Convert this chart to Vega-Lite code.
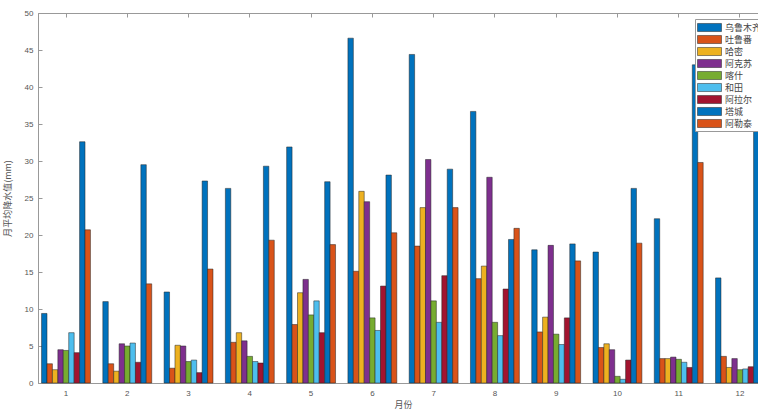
{
  "$schema": "https://vega.github.io/schema/vega-lite/v6.json",
  "autosize": {"type": "none"},
  "padding": {"left": 38, "top": 13, "right": 0, "bottom": 29},
  "width": 730,
  "height": 370,
  "background": "white",
  "config": {
    "view": {"stroke": "#999", "strokeWidth": 1},
    "font": "Liberation Sans",
    "axis": {"labelColor": "#555", "titleColor": "#555", "domainColor": "#999", "tickColor": "#999", "labelFontSize": 8, "titleFontWeight": "normal", "grid": false}
  },
  "data": {"values": [
    {"m":1,"s":"乌鲁木齐","v":9.4},{"m":1,"s":"吐鲁番","v":2.6},{"m":1,"s":"哈密","v":1.8},{"m":1,"s":"阿克苏","v":4.5},{"m":1,"s":"喀什","v":4.4},{"m":1,"s":"和田","v":6.8},{"m":1,"s":"阿拉尔","v":4.1},{"m":1,"s":"塔城","v":32.6},{"m":1,"s":"阿勒泰","v":20.7},
    {"m":2,"s":"乌鲁木齐","v":11.0},{"m":2,"s":"吐鲁番","v":2.6},{"m":2,"s":"哈密","v":1.6},{"m":2,"s":"阿克苏","v":5.3},{"m":2,"s":"喀什","v":5.0},{"m":2,"s":"和田","v":5.4},{"m":2,"s":"阿拉尔","v":2.8},{"m":2,"s":"塔城","v":29.5},{"m":2,"s":"阿勒泰","v":13.4},
    {"m":3,"s":"乌鲁木齐","v":12.3},{"m":3,"s":"吐鲁番","v":2.0},{"m":3,"s":"哈密","v":5.1},{"m":3,"s":"阿克苏","v":5.0},{"m":3,"s":"喀什","v":2.9},{"m":3,"s":"和田","v":3.1},{"m":3,"s":"阿拉尔","v":1.4},{"m":3,"s":"塔城","v":27.3},{"m":3,"s":"阿勒泰","v":15.4},
    {"m":4,"s":"乌鲁木齐","v":26.3},{"m":4,"s":"吐鲁番","v":5.5},{"m":4,"s":"哈密","v":6.8},{"m":4,"s":"阿克苏","v":5.7},{"m":4,"s":"喀什","v":3.6},{"m":4,"s":"和田","v":2.9},{"m":4,"s":"阿拉尔","v":2.7},{"m":4,"s":"塔城","v":29.3},{"m":4,"s":"阿勒泰","v":19.3},
    {"m":5,"s":"乌鲁木齐","v":31.9},{"m":5,"s":"吐鲁番","v":7.9},{"m":5,"s":"哈密","v":12.2},{"m":5,"s":"阿克苏","v":14.0},{"m":5,"s":"喀什","v":9.2},{"m":5,"s":"和田","v":11.1},{"m":5,"s":"阿拉尔","v":6.8},{"m":5,"s":"塔城","v":27.2},{"m":5,"s":"阿勒泰","v":18.7},
    {"m":6,"s":"乌鲁木齐","v":46.6},{"m":6,"s":"吐鲁番","v":15.1},{"m":6,"s":"哈密","v":25.9},{"m":6,"s":"阿克苏","v":24.5},{"m":6,"s":"喀什","v":8.8},{"m":6,"s":"和田","v":7.1},{"m":6,"s":"阿拉尔","v":13.1},{"m":6,"s":"塔城","v":28.1},{"m":6,"s":"阿勒泰","v":20.3},
    {"m":7,"s":"乌鲁木齐","v":44.4},{"m":7,"s":"吐鲁番","v":18.5},{"m":7,"s":"哈密","v":23.7},{"m":7,"s":"阿克苏","v":30.2},{"m":7,"s":"喀什","v":11.1},{"m":7,"s":"和田","v":8.2},{"m":7,"s":"阿拉尔","v":14.5},{"m":7,"s":"塔城","v":28.9},{"m":7,"s":"阿勒泰","v":23.7},
    {"m":8,"s":"乌鲁木齐","v":36.7},{"m":8,"s":"吐鲁番","v":14.1},{"m":8,"s":"哈密","v":15.8},{"m":8,"s":"阿克苏","v":27.8},{"m":8,"s":"喀什","v":8.2},{"m":8,"s":"和田","v":6.4},{"m":8,"s":"阿拉尔","v":12.7},{"m":8,"s":"塔城","v":19.4},{"m":8,"s":"阿勒泰","v":20.9},
    {"m":9,"s":"乌鲁木齐","v":18.0},{"m":9,"s":"吐鲁番","v":6.9},{"m":9,"s":"哈密","v":8.9},{"m":9,"s":"阿克苏","v":18.6},{"m":9,"s":"喀什","v":6.6},{"m":9,"s":"和田","v":5.2},{"m":9,"s":"阿拉尔","v":8.8},{"m":9,"s":"塔城","v":18.8},{"m":9,"s":"阿勒泰","v":16.5},
    {"m":10,"s":"乌鲁木齐","v":17.7},{"m":10,"s":"吐鲁番","v":4.8},{"m":10,"s":"哈密","v":5.3},{"m":10,"s":"阿克苏","v":4.5},{"m":10,"s":"喀什","v":0.9},{"m":10,"s":"和田","v":0.5},{"m":10,"s":"阿拉尔","v":3.1},{"m":10,"s":"塔城","v":26.3},{"m":10,"s":"阿勒泰","v":18.9},
    {"m":11,"s":"乌鲁木齐","v":22.2},{"m":11,"s":"吐鲁番","v":3.3},{"m":11,"s":"哈密","v":3.3},{"m":11,"s":"阿克苏","v":3.5},{"m":11,"s":"喀什","v":3.2},{"m":11,"s":"和田","v":2.8},{"m":11,"s":"阿拉尔","v":2.1},{"m":11,"s":"塔城","v":43.0},{"m":11,"s":"阿勒泰","v":29.8},
    {"m":12,"s":"乌鲁木齐","v":14.2},{"m":12,"s":"吐鲁番","v":3.6},{"m":12,"s":"哈密","v":2.1},{"m":12,"s":"阿克苏","v":3.3},{"m":12,"s":"喀什","v":1.8},{"m":12,"s":"和田","v":1.9},{"m":12,"s":"阿拉尔","v":2.2},{"m":12,"s":"塔城","v":36.0},{"m":12,"s":"阿勒泰","v":25.0}
  ]},
  "encoding": {
    "y": {"field": "v", "type": "quantitative", "scale": {"domain": [0, 50], "nice": false},
          "axis": {"title": "月平均降水值(mm)", "titleFont": "Noto Sans CJK SC", "titleFontSize": 9, "titlePadding": 12, "values": [0,5,10,15,20,25,30,35,40,45,50], "labelOverlap": false, "tickSize": -4, "labelPadding": 9}}
  },
  "layer": [
    {
      "mark": {"type": "bar", "stroke": "#222", "strokeWidth": 0.5},
      "encoding": {
        "x": {"field": "m", "type": "ordinal", "scale": {"paddingInner": 0.202, "paddingOuter": 0.058},
              "axis": {"title": "月份", "titleFont": "Noto Sans CJK SC", "titleFontSize": 9, "titlePadding": 3, "labelAngle": 0, "tickSize": -4, "labelPadding": 10, "domainColor": "#999"}},
        "xOffset": {"field": "s", "type": "nominal", "sort": ["乌鲁木齐","吐鲁番","哈密","阿克苏","喀什","和田","阿拉尔","塔城","阿勒泰"]},
        "color": {"field": "s", "type": "nominal",
                  "scale": {"domain": ["乌鲁木齐","吐鲁番","哈密","阿克苏","喀什","和田","阿拉尔","塔城","阿勒泰"],
                            "range": ["#0072BD","#D95319","#EDB120","#7E2F8E","#77AC30","#4DBEEE","#A2142F","#0072BD","#D95319"]},
                  "legend": {"title": null, "orient": "none", "legendX": 657, "legendY": 6,
                             "fillColor": "white", "strokeColor": "#999", "padding": 2,
                             "symbolType": "M-2,-0.67H2V0.67H-2Z", "symbolSize": 144, "symbolOffset": 6, "symbolStrokeColor": "#222", "symbolStrokeWidth": 0.5,
                             "symbolOpacity": 1, "labelFont": "Noto Sans CJK SC", "labelFontSize": 9, "labelColor": "#444", "rowPadding": 0, "labelOffset": 9}}
      }
    },
    {
      "mark": {"type": "bar", "opacity": 0},
      "encoding": {
        "x": {"field": "m", "type": "ordinal", "axis": {"orient": "top", "labels": false, "title": null, "tickSize": -4, "domain": false}}
      }
    }
  ],
  "resolve": {"axis": {"x": "independent"}}
}
